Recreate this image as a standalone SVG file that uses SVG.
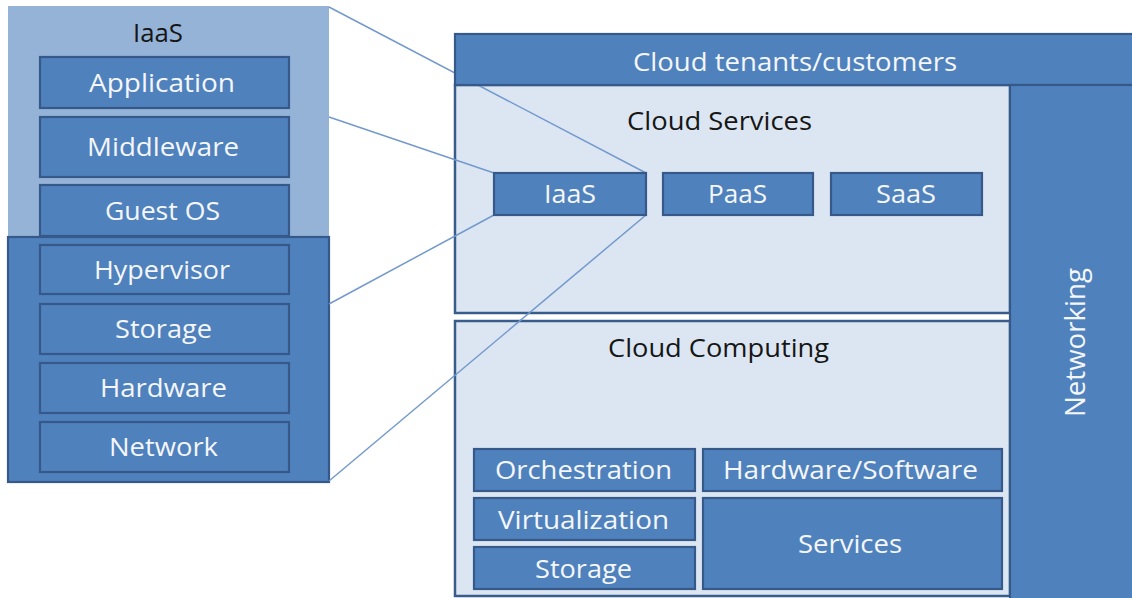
<svg xmlns="http://www.w3.org/2000/svg" width="1132" height="598" viewBox="0 0 1132 598">
<style>
.dark{fill:#4f81bd;stroke:#36598a;stroke-width:2.2}
.light{fill:#dce6f2;stroke:#385d8a;stroke-width:2.5}
.pale{fill:#95b3d7}
.w{font-family:"Open Sans","Liberation Sans",sans-serif;font-size:25px;fill:#f4f6fa}
.k{font-family:"Open Sans","Liberation Sans",sans-serif;font-size:25px;fill:#161616}
.conn{stroke:#7399cd;stroke-width:1.5;fill:none}
</style>
<rect width="1132" height="598" fill="#ffffff"/>

<g id="iaas-stack">
<rect x="8" y="6" width="321" height="231" class="pale"/>
<rect x="8" y="237" width="321" height="245" class="dark"/>
<text x="133" y="42" class="k" textLength="50" lengthAdjust="spacingAndGlyphs">IaaS</text>
</g>
<g id="application"><rect x="40" y="57" width="249" height="51" class="dark"/><text x="89" y="92" class="w" textLength="146" lengthAdjust="spacingAndGlyphs">Application</text></g>
<g id="middleware"><rect x="40" y="117" width="249" height="60" class="dark"/><text x="87" y="156" class="w" textLength="152" lengthAdjust="spacingAndGlyphs">Middleware</text></g>
<g id="guest-os"><rect x="40" y="185" width="249" height="51" class="dark"/><text x="105" y="220" class="w" textLength="115" lengthAdjust="spacingAndGlyphs">Guest OS</text></g>
<g id="hypervisor"><rect x="40" y="245" width="249" height="49" class="dark"/><text x="94" y="279" class="w" textLength="136" lengthAdjust="spacingAndGlyphs">Hypervisor</text></g>
<g id="storage-left"><rect x="40" y="304" width="249" height="50" class="dark"/><text x="115" y="338" class="w" textLength="97" lengthAdjust="spacingAndGlyphs">Storage</text></g>
<g id="hardware"><rect x="40" y="363" width="249" height="50" class="dark"/><text x="100" y="397" class="w" textLength="127" lengthAdjust="spacingAndGlyphs">Hardware</text></g>
<g id="network"><rect x="40" y="422" width="249" height="50" class="dark"/><text x="109" y="456" class="w" textLength="109" lengthAdjust="spacingAndGlyphs">Network</text></g>

<g id="cloud-services">
<rect x="455" y="85" width="555" height="228" class="light"/>
<text x="627" y="130" class="k" textLength="185" lengthAdjust="spacingAndGlyphs">Cloud Services</text>
</g>
<g id="cloud-computing">
<rect x="455" y="321" width="555" height="275" class="light"/>
<text x="608" y="357" class="k" textLength="221" lengthAdjust="spacingAndGlyphs">Cloud Computing</text>
</g>

<g id="connectors">
<line x1="329" y1="7" x2="646" y2="173" class="conn"/>
<line x1="329" y1="117" x2="494" y2="173" class="conn"/>
<line x1="329" y1="304" x2="494" y2="215" class="conn"/>
<line x1="646" y1="215" x2="329" y2="481" class="conn"/>
</g>

<g id="cloud-tenants"><rect x="455" y="34" width="690" height="51" class="dark"/><text x="633" y="71" class="w" textLength="324" lengthAdjust="spacingAndGlyphs">Cloud tenants/customers</text></g>
<g id="networking"><rect x="1010" y="85" width="135" height="520" class="dark"/><text x="0" y="0" transform="translate(1085 417) rotate(-90)" class="w" style="font-size:28px" textLength="149" lengthAdjust="spacingAndGlyphs">Networking</text></g>

<g id="iaas"><rect x="494" y="173" width="152" height="42" class="dark"/><text x="544" y="203" class="w" textLength="52" lengthAdjust="spacingAndGlyphs">IaaS</text></g>
<g id="paas"><rect x="663" y="173" width="150" height="42" class="dark"/><text x="708" y="203" class="w" textLength="59" lengthAdjust="spacingAndGlyphs">PaaS</text></g>
<g id="saas"><rect x="831" y="173" width="151" height="42" class="dark"/><text x="876" y="203" class="w" textLength="60" lengthAdjust="spacingAndGlyphs">SaaS</text></g>

<g id="orchestration"><rect x="474" y="449" width="221" height="42" class="dark"/><text x="495" y="479" class="w" textLength="177" lengthAdjust="spacingAndGlyphs">Orchestration</text></g>
<g id="hardware-software"><rect x="703" y="449" width="299" height="42" class="dark"/><text x="723" y="479" class="w" textLength="255" lengthAdjust="spacingAndGlyphs">Hardware/Software</text></g>
<g id="virtualization"><rect x="474" y="498" width="221" height="42" class="dark"/><text x="498" y="529" class="w" textLength="171" lengthAdjust="spacingAndGlyphs">Virtualization</text></g>
<g id="storage-right"><rect x="474" y="547" width="221" height="42" class="dark"/><text x="535" y="578" class="w" textLength="97" lengthAdjust="spacingAndGlyphs">Storage</text></g>
<g id="services"><rect x="703" y="498" width="299" height="91" class="dark"/><text x="798" y="553" class="w" textLength="104" lengthAdjust="spacingAndGlyphs">Services</text></g>
</svg>
